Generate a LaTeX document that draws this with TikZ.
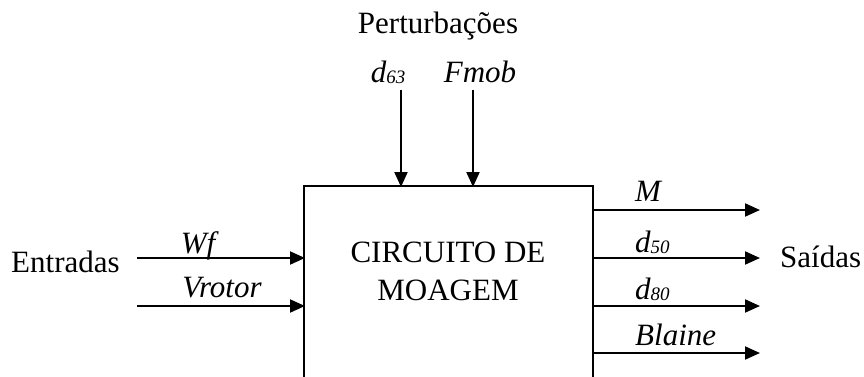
\documentclass[tikz,border=0pt]{standalone}
\usepackage{fontspec}
\setmainfont{Liberation Serif}
\usetikzlibrary{arrows.meta}
\newcommand{\sbs}[1]{\raisebox{-1.5pt}{\fontsize{19}{22}\selectfont #1}}
\begin{document}
\begin{tikzpicture}[x=1pt,y=-1pt,
  sig/.style={line width=2pt,-{Triangle[length=15pt,width=13pt]}},
  lbl/.style={inner sep=0pt,anchor=base,font=\fontsize{31}{36}\selectfont\itshape},
  txt/.style={inner sep=0pt,anchor=base,font=\fontsize{31}{36}\selectfont}]
\useasboundingbox (0,0) rectangle (864,376);
\draw[line width=2pt] (304,186) rectangle (593,400);
\node[txt] (l1) at (448,262) {CIRCUITO DE};
\node[txt] (l2) at (448,300) {MOAGEM};
% inputs
\coordinate (i1s) at (137,258); \coordinate (i1e) at (305,258);
\coordinate (i2s) at (137,306); \coordinate (i2e) at (305,306);
\draw[sig] (i1s) -- (i1e);
\draw[sig] (i2s) -- (i2e);
\node[lbl] (wf) at (198,253) {Wf};
\node[lbl] (vr) at (222,297) {Vrotor};
\node[txt,anchor=base west] (ent) at (11,272) {Entradas};
% disturbances
\coordinate (p1s) at (401,90); \coordinate (p1e) at (401,187);
\coordinate (p2s) at (473,90); \coordinate (p2e) at (473,187);
\draw[sig] (p1s) -- (p1e);
\draw[sig] (p2s) -- (p2e);
\node[lbl] (d63) at (388,82) {d\sbs{63}};
\node[lbl] (fm) at (480,82) {Fmob};
\node[txt] (pert) at (438,33) {Perturbações};
% outputs
\foreach \n/\y in {o1/210,o2/258,o3/306,o4/353}{
  \coordinate (\n s) at (592,\y); \coordinate (\n e) at (760,\y);
  \draw[sig] (\n s) -- (\n e);
}
\node[lbl,anchor=base west] (m) at (635,201) {M};
\node[lbl,anchor=base west] (d50) at (635,252) {d\sbs{50}};
\node[lbl,anchor=base west] (d80) at (635,299) {d\sbs{80}};
\node[lbl,anchor=base west] (bl) at (635,345) {Blaine};
\node[txt,anchor=base west] (sai) at (780,267) {Saídas};
\end{tikzpicture}
\end{document}
